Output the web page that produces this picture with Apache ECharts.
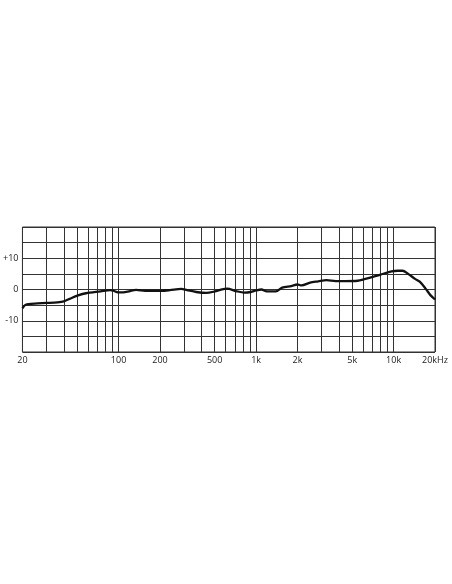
<!DOCTYPE html>
<html>
<head>
<meta charset="utf-8">
<script src="https://cdn.jsdelivr.net/npm/echarts@6/dist/echarts.min.js"></script>
<style>
  html, body { margin: 0; padding: 0; background: #fff; }
  #chart { width: 452px; height: 584px; }
</style>
</head>
<body>
<div id="chart"></div>
<script>
// frequency (Hz) and response (dB)
var freqs = [20, 20.9, 22.1, 24.5, 30, 35.9, 40, 44, 50.8, 58, 74, 86.8, 92, 99,
    108, 119, 134, 156, 182, 205, 236, 285, 315, 367, 434, 503, 550, 616, 715,
    819, 916, 1000, 1094, 1198, 1393, 1548, 1800, 2000, 2142, 2470, 2830, 3245,
    3800, 4446, 5477, 6120, 7960, 9670, 10755, 11620, 12750, 14320, 15490, 17130,
    18520, 20000];
var gains = [-6.0, -5.0, -4.7, -4.5, -4.3, -4.1, -3.8, -3.0, -1.9, -1.2, -0.6, -0.2, -0.4, -0.9,
    -0.9, -0.6, -0.1, -0.4, -0.4, -0.4, -0.2, 0.2, -0.2, -0.8, -1.1, -0.6, -0.1, 0.25, -0.5,
    -1.0, -0.8, -0.3, 0, -0.6, -0.6, 0.6, 1.1, 1.6, 1.3, 2.2, 2.6, 3.0,
    2.7, 2.7, 2.8, 3.3, 4.7, 5.8, 6.0, 6.0, 5.0, 3.4, 2.5, 0.2,
    -1.8, -3.2];

// vertical grid lines and the labelled frequencies
var gridFreqs = [20, 30, 40, 50, 60, 70, 80, 90, 100, 200, 300, 400, 500, 600, 700, 800, 900,
    1000, 2000, 3000, 4000, 5000, 6000, 7000, 8000, 9000, 10000, 20000];
var labelFreqs = [20, 100, 200, 500, 1000, 2000, 5000, 10000, 20000];
var labelTexts = ['20', '100', '200', '500', '1k', '2k', '5k', '10k', '20kHz'];
var dbLabels = { '10': '+10', '0': '0', '-10': '-10' };

var myChart = echarts.init(document.getElementById('chart'));

var points = [];
for (var i = 0; i < freqs.length; i++) {
    points.push([freqs[i], gains[i]]);
}
var vLines = [];
for (var i = 0; i < gridFreqs.length; i++) {
    var k = labelFreqs.indexOf(gridFreqs[i]);
    vLines.push({
        xAxis: gridFreqs[i],
        label: k >= 0 ? { show: true, formatter: labelTexts[k] } : { show: false }
    });
}

myChart.setOption({
    backgroundColor: '#fff',
    animation: false,
    grid: {
        left: 21, right: 17, top: 227, bottom: 232,
        show: true, borderColor: '#333', borderWidth: 1
    },
    xAxis: {
        type: 'log',
        logBase: 10,
        min: 20,
        max: 20000,
        axisLine: { show: false },
        axisTick: { show: false },
        axisLabel: { show: false },
        splitLine: { show: false }
    },
    yAxis: {
        type: 'value',
        min: -20,
        max: 20,
        interval: 5,
        axisLine: { show: false },
        axisTick: { show: false },
        axisLabel: {
            margin: 4,
            fontFamily: 'Open Sans',
            fontSize: 9,
            color: '#222',
            formatter: function (v) {
                return dbLabels[String(v)] || '';
            }
        },
        splitLine: { show: true, lineStyle: { color: '#333', width: 1 } }
    },
    series: [
        {
            type: 'line',
            data: [],
            silent: true,
            markLine: {
                silent: true,
                symbol: 'none',
                animation: false,
                lineStyle: { color: '#333', width: 1, type: 'solid' },
                label: {
                    position: 'start',
                    distance: 4,
                    fontFamily: 'Open Sans',
                    fontSize: 9,
                    color: '#222'
                },
                emphasis: { disabled: true },
                data: vLines
            }
        },
        {
            type: 'line',
            data: points,
            showSymbol: false,
            smooth: 0.3,
            lineStyle: { color: '#111', width: 2.3 },
            z: 5
        }
    ]
});
</script>
</body>
</html>
